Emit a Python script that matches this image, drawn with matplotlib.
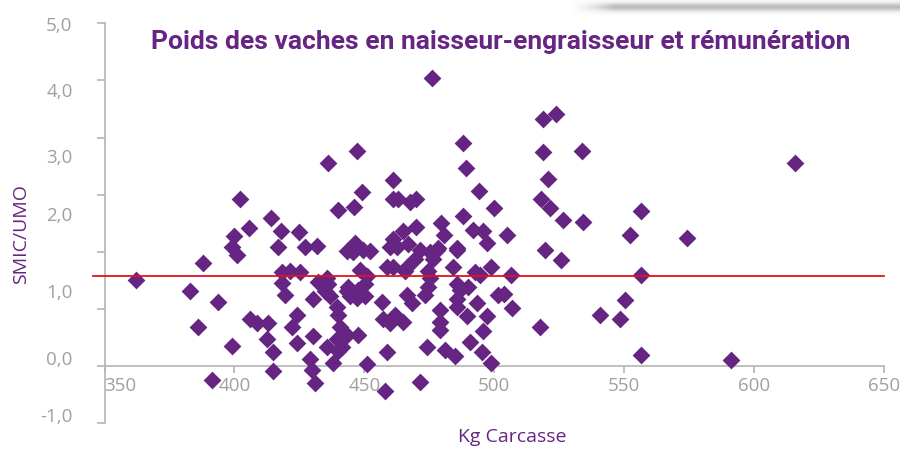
import matplotlib
matplotlib.use("Agg")
import matplotlib.pyplot as plt
import numpy as np

# Kg carcasse / SMIC per UMO (y read in the axis tick units)
kg = [476, 488, 489, 447, 436, 461, 449, 494, 402, 461, 463, 467.5, 470, 500, 440, 446,
      488, 414, 405.6, 418, 425, 400, 479.4, 480.6, 464.8, 469.8, 491.7, 495.6, 497.1, 461,
      462.5, 466.7, 485.6, 475.2, 478.3, 416.7, 427.1, 431.7, 399, 401, 446.3, 443.3, 449.4,
      452.1, 518.7, 523.7, 518.7, 533.7, 615.9, 520.6, 517.9, 521.3, 526.3, 534,
      556.3, 504.8, 552.1, 574, 519.4, 525.6, 498.7, 506.3, 556.3, 494.4, 503.7, 506.7,
      550.2, 540.6, 548.3, 517.5, 497.1, 495.6, 556.3, 591, 498.7, 495.2, 362.1, 387.9,
      382.9, 393.7, 386, 399, 391.3, 418.3, 421.3, 425.2, 419.4, 418.3, 432.1, 435.6, 430.2,
      436.7, 439.4, 406, 408.7, 412.9, 412.5, 414.8, 424, 422.1, 424, 430.2, 435.6, 429,
      429.8, 414.8, 431, 437.9, 440.6, 443.3, 439.4, 441.3, 447.5, 443.7, 443.3, 445.6, 451,
      448.3, 450.2, 456.7, 458.7, 461, 457.1, 459.8, 458.7, 451, 457.9, 465.6, 466.3, 468.3,
      464.8, 474.4, 473.3, 479, 479, 485.6, 486.7, 485.6, 493.3, 489.4, 474, 481, 484.8,
      490.6, 471.3, 484, 485.6, 492.5, 501.3, 477.9, 476.3, 474.4, 471.3, 469.4, 466.3,
      459.8, 436, 434.8, 447.5, 450.2, 444.4, 447.1, 439.8, 461.7, 439.8, 475.2, 489.8,
      485.6, 479]
smic = [5.05, 3.91, 3.46, 3.76, 3.56, 3.25, 3.04, 3.06, 2.93, 2.93, 2.93, 2.88, 2.93, 2.76,
        2.74, 2.79, 2.62, 2.60, 2.41, 2.37, 2.34, 2.27, 2.50, 2.30, 2.37, 2.43, 2.39, 2.36,
        2.16, 2.22, 2.08, 2.13, 2.06, 1.99, 2.06, 2.09, 2.08, 2.11, 2.09, 1.94, 2.16, 2.01,
        2.04, 2.01, 4.33, 4.42, 3.74, 3.77, 3.55, 3.27, 2.93, 2.76, 2.55, 2.53, 2.71,
        2.29, 2.30, 2.25, 2.04, 1.85, 1.74, 1.60, 1.59, 1.60, 1.27, 1.01, 1.15, 0.90, 0.83,
        0.69, 0.87, 0.61, 0.20, 0.10, 0.06, 0.24, 1.50, 1.80, 1.31, 1.13, 0.69, 0.36, -0.25,
        1.64, 1.66, 1.64, 1.25, 1.46, 1.48, 1.55, 1.17, 1.22, 1.04, 0.82, 0.76, 0.76, 0.47,
        0.24, 0.90, 0.69, 0.41, 0.52, 0.34, 0.12, -0.06, -0.09, -0.30, 0.06, 0.69, 0.55, 0.47,
        0.34, 0.55, 1.39, 1.31, 1.99, 1.57, 1.69, 1.22, 1.13, 1.73, 1.74, 0.82, 0.76, 0.24,
        0.03, -0.44, 1.66, 1.25, 1.11, 0.78, 1.38, 1.25, 0.99, 0.78, 1.43, 1.34, 1.04, 1.11,
        0.87, 0.34, 0.29, 0.17, 0.43, -0.27, 1.74, 2.04, 1.64, 1.25, 2.04, 1.87, 1.66, 2.04,
        1.87, 1.73, 2.08, 1.43, 1.31, 1.34, 1.43, 1.22, 1.20, 0.90, 0.90, 0.26, 1.55, 1.38,
        1.17, 0.64]
seuil = 1.575

xticks = [350, 400, 450, 500, 550, 600, 650]
ylab_pos = [5.98, 4.84, 3.67, 2.66, 1.31, 0.15, -0.85]
ylab_txt = ["5,0", "4,0", "3,0", "2,0", "1,0", "0,0", "-1,0"]

purple = '#662483'
grey = '#a0a0a0'
axgrey = '#b4b4b4'

fig = plt.figure(figsize=(9, 4.5), dpi=100)

# faint drop shadow in the top-right corner
sh = fig.add_axes([570/900, 1-17/450, 330/900, 17/450])
vy = np.exp(-((np.linspace(0, 17, 40) - 7) / 5.0) ** 2)
vx = np.clip(np.linspace(0, 330, 200) / 45.0, 0, 1)
sh.imshow(np.outer(vy, vx), cmap='Greys', vmin=0, vmax=2.6, aspect='auto')
sh.axis('off')

ax = fig.add_axes([104.5/900, 1-423.3/450, 779.5/900, 400/450])
ax.scatter(kg, smic, marker='D', s=82, color=purple, linewidths=0, zorder=3)
ax.axhline(seuil, xmin=-0.015, xmax=1, color='#e3131b', lw=1.3, zorder=4, clip_on=False)

ax.set_xlim(350, 650)
ax.set_ylim(-1, 6)

for s in ['top', 'right']:
    ax.spines[s].set_visible(False)
ax.spines['bottom'].set_position(('data', 0))
ax.spines['left'].set_color(axgrey)
ax.spines['bottom'].set_color(axgrey)
ax.spines['left'].set_linewidth(1.2)
ax.spines['bottom'].set_linewidth(1.2)

tfont = ['Open Sans', 'DejaVu Sans']
ax.set_xticks(xticks)
ax.set_xticklabels([str(t) for t in xticks], family=tfont, fontsize=13.5, color=grey)
ax.tick_params(axis='x', length=5, width=1.2, color=axgrey, pad=3)
ax.get_xticklabels()[0].set_ha('left')

ax.set_yticks(ylab_pos)
ax.set_yticklabels(ylab_txt, family=tfont, fontsize=13.5, color=grey)
ax.set_yticks(range(-1, 7), minor=True)
ax.tick_params(axis='y', which='major', length=0, pad=23)
ax.tick_params(axis='y', which='minor', length=6, width=1.2, color=axgrey)

fig.text(501/900, 1-42/450, "Poids des vaches en naisseur-engraisseur et rémunération",
         family=['Roboto', 'DejaVu Sans'], fontweight='bold', fontsize=19, color=purple,
         ha='center', va='center')
fig.text(21/900, 1-234/450, "SMIC/UMO", family=tfont, fontsize=14, color=purple,
         rotation=90, ha='center', va='center')
fig.text(512/900, 1-437/450, "Kg Carcasse", family=tfont, fontsize=14, color=purple,
         ha='center', va='center')

fig.savefig('out.png', dpi=100)
